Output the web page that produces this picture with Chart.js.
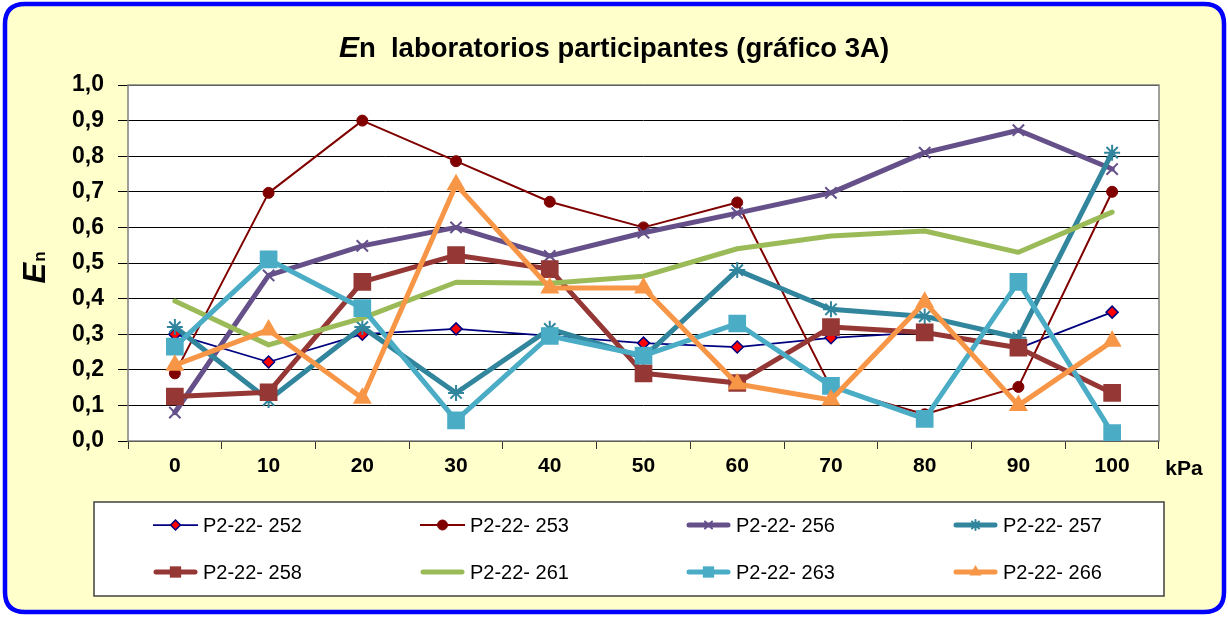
<!DOCTYPE html>
<html><head><meta charset="utf-8">
<script src="https://cdn.jsdelivr.net/npm/chart.js@4/dist/chart.umd.min.js"></script>
<style>html,body{margin:0;padding:0;background:#fff;}canvas{display:block;}</style>
</head><body>
<canvas id="c" width="1228" height="618"></canvas>
<script>
const categories = ['0','10','20','30','40','50','60','70','80','90','100'];
const seriesNames = ['P2-22- 252','P2-22- 253','P2-22- 256','P2-22- 257','P2-22- 258','P2-22- 261','P2-22- 263','P2-22- 266'];
const s252 = [0.30,0.222,0.30,0.315,0.295,0.275,0.264,0.29,0.305,0.26,0.362];
const s253 = [0.19,0.697,0.90,0.786,0.672,0.60,0.67,0.15,0.075,0.152,0.70];
const s256 = [0.08,0.465,0.548,0.60,0.52,0.585,0.64,0.697,0.81,0.873,0.764];
const s257 = [0.32,0.115,0.32,0.135,0.315,0.235,0.48,0.37,0.35,0.29,0.81];
const s258 = [0.125,0.137,0.447,0.522,0.483,0.19,0.163,0.32,0.305,0.262,0.135];
const s261 = [0.393,0.27,0.345,0.446,0.443,0.463,0.54,0.576,0.59,0.53,0.643];
const s263 = [0.265,0.51,0.373,0.058,0.295,0.24,0.33,0.155,0.062,0.447,0.022];
const s266 = [0.213,0.312,0.12,0.72,0.43,0.43,0.16,0.115,0.39,0.10,0.28];
const yMin = 0, yMax = 1, yStep = 0.1;
const titleMain = 'E', titleRest = 'n  laboratorios participantes (gráfico 3A)';
const xUnit = 'kPa';

const FONT = '"Liberation Sans", Arial, sans-serif';

const styles = [
  {color:'#000080', width:1.75, ps:'rectRot', r:6, bg:'#FF0000', bc:'#000080', bw:1.5, lr:5},
  {color:'#800000', width:2, ps:'circle', r:5.5, bg:'#800000', bc:'#800000', bw:1, lr:5},
  {color:'#65508A', width:5, ps:'crossRot', r:8, bg:'#65508A', bc:'#65508A', bw:2, lr:5},
  {color:'#31859C', width:5, ps:'star', r:8, bg:'#31859C', bc:'#31859C', bw:2, lr:5},
  {color:'#953735', width:5, ps:'rect', r:12.5, bg:'#953735', bc:'#953735', bw:0, lr:8},
  {color:'#9BBB59', width:5, ps:'circle', r:0, bg:'#9BBB59', bc:'#9BBB59', bw:0, lr:0},
  {color:'#4BACC6', width:5, ps:'rect', r:12.5, bg:'#4BACC6', bc:'#4BACC6', bw:0, lr:8},
  {color:'#F79646', width:5, ps:'triangle', r:11, bg:'#F79646', bc:'#F79646', bw:0, lr:7}
];
const allSeries = [s252,s253,s256,s257,s258,s261,s263,s266];

const datasets = allSeries.map((d,i)=>({
  label: seriesNames[i], data: d,
  borderColor: styles[i].color, borderWidth: styles[i].width,
  backgroundColor: styles[i].bg,
  pointStyle: styles[i].ps, pointRadius: styles[i].r, pointHoverRadius: styles[i].r,
  pointBackgroundColor: styles[i].bg, pointBorderColor: styles[i].bc, pointBorderWidth: styles[i].bw,
  borderJoinStyle:'round', borderCapStyle:'round',
  tension: 0, fill:false, order: allSeries.length - i
}));

function fmt(v){ return v.toFixed(1).replace('.', ','); }

const decor = {
  id:'decor',
  beforeDraw(chart){
    const ctx = chart.ctx, W = chart.width, H = chart.height;
    ctx.save();
    ctx.fillStyle = '#fff'; ctx.fillRect(0,0,W,H);
    const x=5,y=4,w=1219,h=608,r=20;
    ctx.beginPath();
    ctx.moveTo(x+r,y); ctx.lineTo(x+w-r,y); ctx.quadraticCurveTo(x+w,y,x+w,y+r);
    ctx.lineTo(x+w,y+h-r); ctx.quadraticCurveTo(x+w,y+h,x+w-r,y+h);
    ctx.lineTo(x+r,y+h); ctx.quadraticCurveTo(x,y+h,x,y+h-r);
    ctx.lineTo(x,y+r); ctx.quadraticCurveTo(x,y,x+r,y); ctx.closePath();
    ctx.fillStyle = '#FFFFCC'; ctx.fill();
    ctx.lineWidth = 4.5; ctx.strokeStyle = '#0000FF'; ctx.stroke();
    const a = chart.chartArea;
    ctx.fillStyle = '#fff'; ctx.fillRect(a.left, a.top, a.right-a.left, a.bottom-a.top);
    ctx.restore();
  },
  beforeDatasetsDraw(chart){
    const ctx = chart.ctx, a = chart.chartArea;
    ctx.save();
    ctx.strokeStyle = '#808080'; ctx.lineWidth = 1.5;
    ctx.strokeRect(a.left, a.top, a.right-a.left, a.bottom-a.top);
    ctx.restore();
  },
  afterDraw(chart){
    const ctx = chart.ctx, a = chart.chartArea;
    ctx.save();
    // title
    ctx.fillStyle = '#000'; ctx.textBaseline = 'alphabetic';
    const f1 = 'italic bold 30px ' + FONT, f2 = 'bold 27.5px ' + FONT;
    ctx.font = f1; const w1 = ctx.measureText(titleMain).width;
    ctx.font = f2; const w2 = ctx.measureText(titleRest).width;
    let tx = 614 - (w1+w2)/2;
    ctx.font = f1; ctx.fillText(titleMain, tx, 57);
    ctx.font = f2; ctx.fillText(titleRest, tx + w1, 57);
    // y axis title
    ctx.save();
    ctx.translate(45, 268); ctx.rotate(-Math.PI/2);
    const g1 = 'italic bold 31px ' + FONT, g2 = 'bold 17px ' + FONT;
    ctx.font = g1; const e1 = ctx.measureText('E').width;
    ctx.font = g2; const e2 = ctx.measureText('n').width;
    let sx = -(e1+e2)/2;
    ctx.font = g1; ctx.fillText('E', sx, 0);
    ctx.font = g2; ctx.fillText('n', sx + e1 + 1, 0);
    ctx.restore();
    // unit
    ctx.font = 'bold 21px ' + FONT; ctx.textAlign = 'center'; ctx.textBaseline = 'middle';
    ctx.fillText(xUnit, 1184, 469);
    // legend box
    ctx.fillStyle = '#fff'; ctx.fillRect(94, 502, 1070, 94);
    ctx.strokeStyle = '#404040'; ctx.lineWidth = 1.5; ctx.strokeRect(94, 502, 1070, 94);
    const colX = [153, 420, 686, 953], rowY = [525, 572];
    chart.data.datasets.forEach((ds, i) => {
      const st = styles[i];
      const x0 = colX[i % 4], y0 = rowY[Math.floor(i / 4)];
      ctx.save();
      ctx.strokeStyle = st.color; ctx.lineWidth = st.width; ctx.lineCap = st.width > 3 ? 'round' : 'butt';
      ctx.beginPath(); ctx.moveTo(x0 + (st.width>3?3:0), y0); ctx.lineTo(x0 + 45 - (st.width>3?3:0), y0); ctx.stroke();
      if (st.lr > 0) {
        ctx.fillStyle = st.bg; ctx.strokeStyle = st.bc; ctx.lineWidth = st.bw || 0;
        Chart.helpers.drawPoint(ctx, {pointStyle: st.ps, radius: st.lr, rotation: 0, borderWidth: st.bw}, x0 + 22.5, y0);
      }
      ctx.restore();
      ctx.fillStyle = '#000'; ctx.font = '20px ' + FONT; ctx.textAlign = 'left'; ctx.textBaseline = 'middle';
      ctx.fillText(ds.label, x0 + 50, y0 + 1);
    });
    ctx.restore();
  }
};

new Chart(document.getElementById('c'), {
  type: 'line',
  data: { labels: categories, datasets },
  options: {
    responsive: false, animation: false, devicePixelRatio: 1,
    layout: { padding: { top: 85, right: 69, left: 0, bottom: 127 } },
    plugins: { legend: { display: false }, title: { display: false }, tooltip: { enabled: false } },
    scales: {
      x: {
        type: 'category', offset: true,
        grid: { offset: true, drawOnChartArea: false, drawTicks: true, tickLength: 8, color: '#333', lineWidth: 1 },
        border: { display: false },
        ticks: { color: '#000', font: { family: FONT, size: 21, weight: 'bold' }, padding: 5, maxRotation: 0, autoSkip: false },
        afterFit(s){ s.height = 50; }
      },
      y: {
        min: yMin, max: yMax,
        grid: { color: '#000', lineWidth: 1, drawTicks: true, tickLength: 10 },
        border: { display: false },
        ticks: { stepSize: yStep, color: '#000', font: { family: FONT, size: 23, weight: 'bold' }, padding: 14, callback: v => fmt(v) },
        afterFit(s){ s.width = 128; }
      }
    }
  },
  plugins: [decor]
});
</script>
</body></html>
